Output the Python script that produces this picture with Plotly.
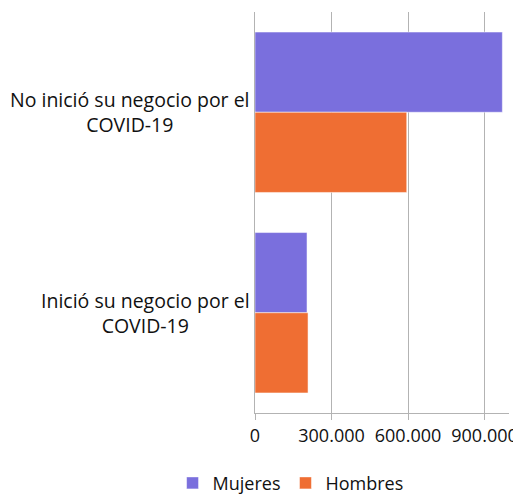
import plotly.graph_objects as go

categories = ["No inició su negocio por el<br>COVID-19", "Inició su negocio por el<br>COVID-19"]
series_names = ["Mujeres", "Hombres"]
mujeres = [970000, 204000]
hombres = [595000, 208000]
tick_vals = [0, 300000, 600000, 900000]
tick_text = ["0", "300.000", "600.000", "900.000"]
colors = ["#7A6FDD", "#EF6E33"]

fig = go.Figure()
for name, vals, col in zip(series_names, [mujeres, hombres], colors):
    fig.add_trace(go.Bar(
        y=categories, x=vals, name=name, orientation="h",
        marker=dict(color=col, line=dict(color="rgba(255,255,255,0.5)", width=1)),
    ))

for cat in categories:
    fig.add_annotation(
        x=0, xref="paper", xanchor="right", xshift=-3,
        y=cat, yref="y", text=cat, showarrow=False, align="center",
        font=dict(family="Open Sans", size=19.5, color="#111111"),
    )

fig.update_layout(
    width=513, height=487,
    margin=dict(l=247, r=12, t=4, b=82, autoexpand=False),
    barmode="group", bargap=0.2, bargroupgap=0,
    plot_bgcolor="white", paper_bgcolor="white",
    font=dict(family="Open Sans", size=19, color="#111111"),
    showlegend=True,
    legend=dict(orientation="h", x=0.14, xanchor="center", y=-0.175, yanchor="middle",
                font=dict(size=18), itemwidth=30),
    xaxis=dict(range=[0, 996000], tickvals=tick_vals, ticktext=tick_text,
               showgrid=True, gridcolor="#b3b3b3", gridwidth=1,
               showline=True, linecolor="#b3b3b3", linewidth=1,
               ticks="outside", ticklen=6, tickcolor="#b3b3b3",
               zeroline=False, tickfont=dict(size=18), automargin=False),
    yaxis=dict(autorange="reversed", showticklabels=False, showgrid=False,
               showline=True, linecolor="#b3b3b3", linewidth=1, zeroline=False,
               ticks="", automargin=False),
)

fig.write_html("out.html")
